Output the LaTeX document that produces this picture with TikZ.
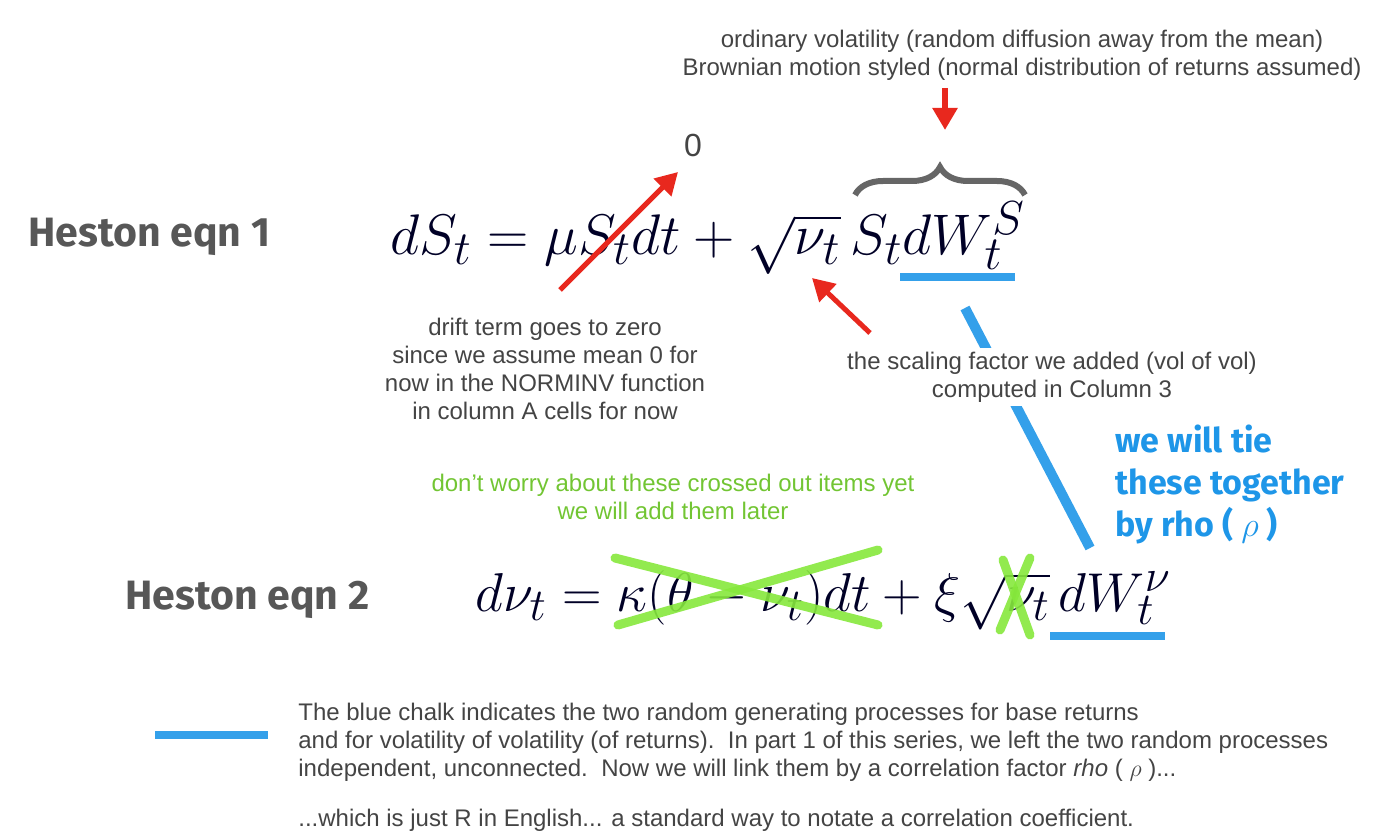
\documentclass[tikz,border=0pt]{standalone}
\usepackage{fontspec}
\usepackage{graphicx}
\setmainfont{Liberation Sans}
\newfontfamily\chalk{Fira Sans}
\usetikzlibrary{decorations.pathreplacing,arrows.meta}
\definecolor{txt}{HTML}{444444}
\definecolor{chalkblue}{HTML}{1E96E8}
\definecolor{chalkgreen}{HTML}{86E83C}
\definecolor{redarrow}{HTML}{E8281E}
\tikzset{
  lbl/.style={text=txt,font=\fontsize{12}{14}\selectfont,align=center,inner sep=0},
  head/.style={text=txt!90,font=\chalk\bfseries\fontsize{20.5}{24}\selectfont,inner sep=0,anchor=west},
  eqn/.style={font=\Huge,inner sep=0,text=black!85!blue},
  bluechalk/.style={draw=chalkblue,line width=4pt,opacity=0.9},
  greenx/.style={draw=chalkgreen,line width=4.5pt,opacity=0.9,line cap=round},
  redarr/.style={draw=redarrow,line width=2.5pt,-{Triangle[length=11pt,width=12pt]}},
  para/.style={text=txt,font=\fontsize{12}{14}\selectfont,align=left,inner sep=0,anchor=west}
}
\begin{document}
\begin{tikzpicture}[x=0.5pt,y=-0.5pt]
\useasboundingbox (0,0) rectangle (1400,839);
\coordinate (l1) at (965,308); \coordinate (l2) at (1090,548);
\draw[bluechalk,line width=5pt] (l1) -- (l2);
\node[lbl] (top) at (1022,55) {ordinary volatility (random diffusion away from the mean)\\Brownian motion styled (normal distribution of returns assumed)};
\node[head] (h1) at (28,237) {Heston eqn 1};
\node[eqn,anchor=west] (e1) at (390,238) {\scalebox{1.15}{$dS_t=\mu S_t dt+\sqrt{\nu_t}\,S_t dW_t^{S}$}};
\node[lbl,font=\fontsize{16}{18}\selectfont] (zero) at (693,145) {0};
\draw[draw=black!60,line width=3pt,decorate,decoration={brace,amplitude=14pt}] (855,195) -- (1025,195);
\coordinate (ra1) at (945,88); \coordinate (ra2) at (945,130);
\draw[redarr,line width=3pt] (ra1) -- (ra2);
\coordinate (rb1) at (560,290); \coordinate (rb2) at (678,172);
\draw[redarr] (rb1) -- (rb2);
\coordinate (rc1) at (870,333); \coordinate (rc2) at (812,278);
\draw[redarr] (rc1) -- (rc2);
\node[lbl] (drift) at (545,369) {drift term goes to zero\\since we assume mean 0 for\\now in the NORMINV function\\in column A cells for now};
\node[lbl,fill=white,inner sep=2pt] (scale) at (1052,377) {the scaling factor we added (vol of vol)\\computed in Column 3};
\coordinate (u1a) at (900,277); \coordinate (u1b) at (1015,277);
\draw[bluechalk] (u1a) -- (u1b);
\node[text=chalkblue,font=\chalk\bfseries\fontsize{17}{21}\selectfont,align=left,anchor=west,inner sep=0] (tie) at (1115,484) {we will tie\\these together\\by rho ( $\rho$ )};
\node[lbl,text=chalkgreen!85!black] (green) at (673,497) {don't worry about these crossed out items yet\\we will add them later};
\node[head] (h2) at (125,600) {Heston eqn 2};
\node[eqn,anchor=west] (e2) at (475,600) {\scalebox{1.1}{$d\nu_t=\kappa(\theta-\nu_t)dt+\xi\sqrt{\nu_t}\,dW_t^{\nu}$}};
\coordinate (g1) at (615,558); \coordinate (g2) at (878,625);
\coordinate (g3) at (618,625); \coordinate (g4) at (878,550);
\draw[greenx] (g1) -- (g2); \draw[greenx] (g3) -- (g4);
\coordinate (g5) at (1003,560); \coordinate (g6) at (1030,635);
\coordinate (g7) at (1000,630); \coordinate (g8) at (1030,558);
\draw[greenx] (g5) -- (g6); \draw[greenx] (g7) -- (g8);
\coordinate (u2a) at (1050,636); \coordinate (u2b) at (1165,636);
\draw[bluechalk] (u2a) -- (u2b);
\coordinate (lg1) at (155,735); \coordinate (lg2) at (268,735);
\draw[bluechalk] (lg1) -- (lg2);
\node[para] (p1) at (298,742) {The blue chalk indicates the two random generating processes for base returns\\and for volatility of volatility (of returns).\ \ In part 1 of this series, we left the two random processes\\independent, unconnected.\ \ Now we will link them by a correlation factor \textit{rho} ( $\rho$ )...};
\node[para] (p2) at (298,820) {...which is just R in English... a standard way to notate a correlation coefficient.};
\end{tikzpicture}
\end{document}
